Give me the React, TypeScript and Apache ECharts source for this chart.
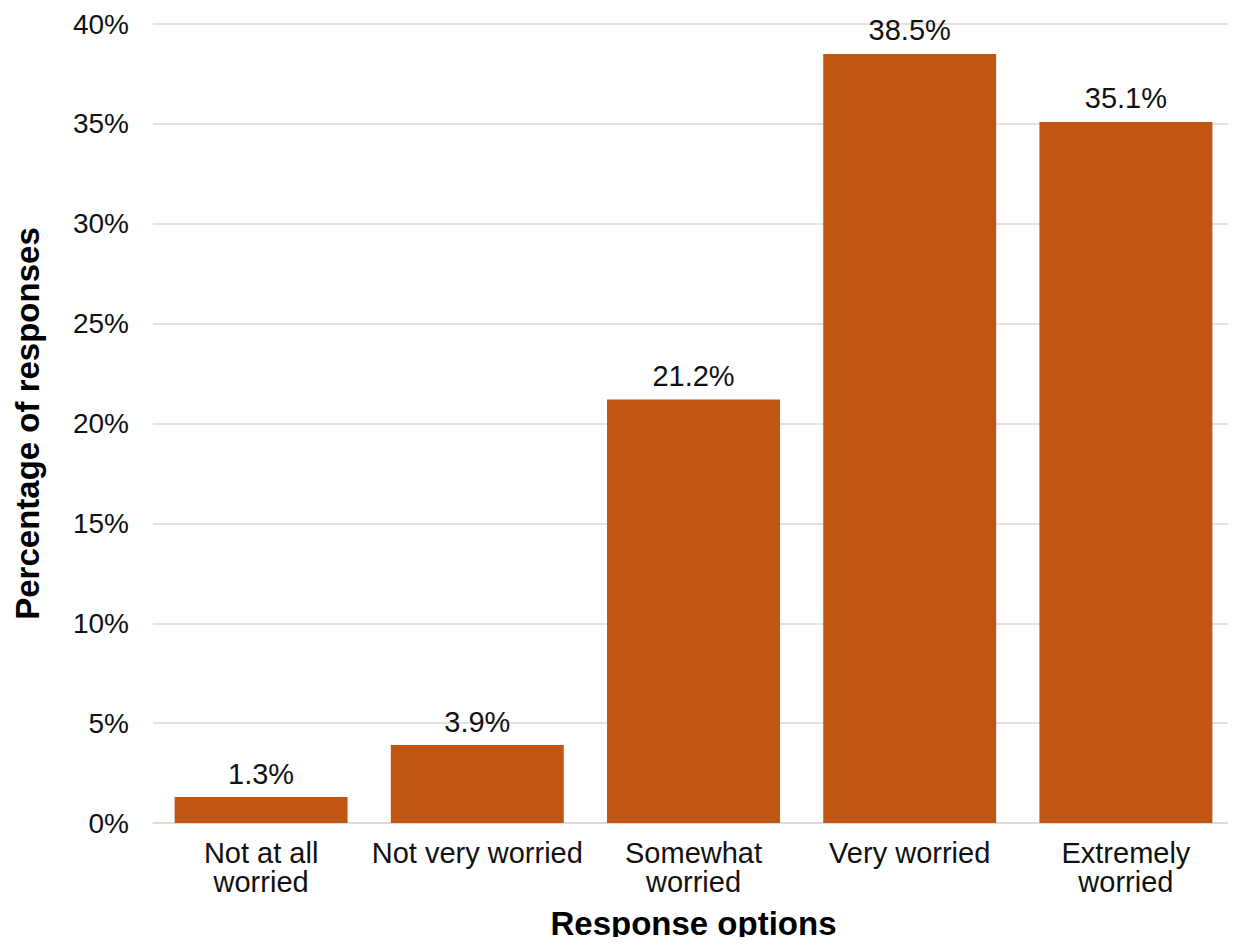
import React, { useEffect, useRef } from "react";
import * as echarts from "echarts";

const categories = [
  "Not at all\nworried",
  "Not very worried",
  "Somewhat\nworried",
  "Very worried",
  "Extremely\nworried",
];
const shares = [1.3, 3.9, 21.2, 38.5, 35.1];
const yTicks = { min: 0, max: 40, interval: 5 };

const FONT = "'Liberation Sans', Arial, Helvetica, sans-serif";
const BAR_COLOR = "#C05611";

export default function App() {
  const ref = useRef<HTMLDivElement>(null);

  useEffect(() => {
    if (!ref.current) return;
    const chart = echarts.init(ref.current, null, { renderer: "svg" });
    chart.setOption({
      animation: false,
      textStyle: { fontFamily: FONT },
      grid: { left: 153, right: 2, top: 24, bottom: 120, containLabel: false },
      xAxis: {
        type: "category",
        data: categories,
        axisTick: { show: false },
        axisLine: { lineStyle: { color: "#d9d9d9", width: 1.5 } },
        axisLabel: {
          color: "#111",
          fontSize: 29,
          lineHeight: 29,
          margin: 15,
          fontFamily: FONT,
          interval: 0,
        },
        name: "Response options",
        nameLocation: "middle",
        nameGap: 84,
        nameTextStyle: {
          fontSize: 33,
          fontWeight: "bold",
          color: "#000",
          fontFamily: FONT,
        },
      },
      yAxis: {
        type: "value",
        min: yTicks.min,
        max: yTicks.max,
        interval: yTicks.interval,
        axisLine: { show: false },
        axisTick: { show: false },
        splitLine: { lineStyle: { color: "#d9d9d9", width: 1.5 } },
        axisLabel: {
          formatter: "{value}%",
          color: "#111",
          fontSize: 28,
          margin: 24,
          fontFamily: FONT,
        },
        name: "Percentage of responses",
        nameLocation: "middle",
        nameGap: 109,
        nameRotate: 90,
        nameTextStyle: {
          fontSize: 33,
          fontWeight: "bold",
          color: "#000",
          fontFamily: FONT,
        },
      },
      series: [
        {
          type: "bar",
          data: shares,
          barWidth: "80%",
          itemStyle: { color: BAR_COLOR },
          label: {
            show: true,
            position: "top",
            distance: 9,
            formatter: (p: any) => `${p.value.toFixed(1)}%`,
            color: "#111",
            fontSize: 29,
            fontFamily: FONT,
          },
        },
      ],
    });
    return () => chart.dispose();
  }, []);

  return <div ref={ref} style={{ width: 1236, height: 945, margin: -8 }} />;
}
